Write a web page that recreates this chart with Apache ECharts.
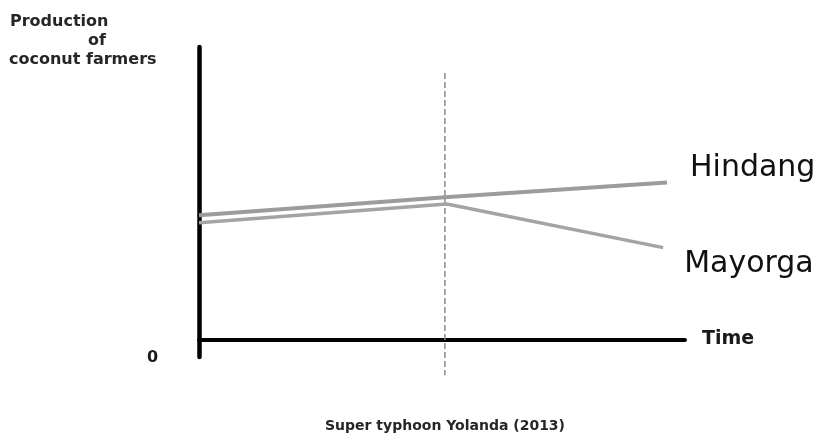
<!DOCTYPE html>
<html>
<head>
<meta charset="utf-8">
<script src="https://cdn.jsdelivr.net/npm/echarts@6/dist/echarts.min.js"></script>
<style>
html,body{margin:0;padding:0;background:#fff;}
#chart{width:828px;height:433px;}
</style>
</head>
<body>
<div id="chart"></div>
<script>
// ---- data ----
var seriesNames = ['Hindang', 'Mayorga'];
var hindangX = [0, 50.6, 96.3];
var hindangY = [42.5, 48.6, 53.7];
var mayorgaX = [0, 51.0, 95.5];
var mayorgaY = [39.9, 46.3, 31.4];
var typhoonX = [50.6, 50.6];
var typhoonY = [91.1, -12.2];
var yAxisTitleLines = ['Production', 'of', 'coconut farmers'];
var xAxisTitle = 'Time';
var originLabel = '0';
var eventLabel = 'Super typhoon Yolanda (2013)';

function pairs(xs, ys) { return xs.map(function (x, i) { return [x, ys[i]]; }); }

var chart = echarts.init(document.getElementById('chart'), null, {renderer: 'canvas'});
chart.setOption({
  backgroundColor: '#ffffff',
  animation: false,
  grid: {left: 199, right: 143, top: 47, bottom: 76, containLabel: false},
  xAxis: {
    type: 'value', min: 0, max: 100,
    axisLine: {show: true, onZero: true, lineStyle: {color: '#000', width: 4}},
    axisTick: {show: false}, axisLabel: {show: false}, splitLine: {show: false},
    name: xAxisTitle, nameLocation: 'end', nameGap: 17,
    nameTextStyle: {fontFamily: 'DejaVu Sans', fontWeight: 'bold', fontSize: 19, color: '#1a1a1a', verticalAlign: 'middle'}
  },
  yAxis: {
    type: 'value', min: -6, max: 100,
    axisLine: {show: true, onZero: false, lineStyle: {color: '#000', width: 4.5}},
    axisTick: {show: false}, axisLabel: {show: false}, splitLine: {show: false}
  },
  graphic: [
    {type: 'text', left: 10, top: 14, style: {text: yAxisTitleLines[0], fontFamily: 'DejaVu Sans', fontWeight: 'bold', fontSize: 16, fill: '#262626'}},
    {type: 'text', left: 88, top: 33, style: {text: yAxisTitleLines[1], fontFamily: 'DejaVu Sans', fontWeight: 'bold', fontSize: 16, fill: '#262626'}},
    {type: 'text', left: 9, top: 52, style: {text: yAxisTitleLines[2], fontFamily: 'DejaVu Sans', fontWeight: 'bold', fontSize: 16, fill: '#262626'}},
    {type: 'text', left: 147, top: 350, style: {text: originLabel, fontFamily: 'DejaVu Sans', fontWeight: 'bold', fontSize: 16, fill: '#1a1a1a'}},
    {type: 'text', x: 445, y: 426, style: {text: eventLabel, fontFamily: 'DejaVu Sans', fontWeight: 'bold', fontSize: 14, fill: '#262626', textAlign: 'center', textVerticalAlign: 'middle'}}
  ],
  series: [
    {
      name: 'Typhoon', type: 'line', data: pairs(typhoonX, typhoonY), clip: false,
      symbol: 'none', silent: true, z: 1,
      lineStyle: {color: '#8a8a8a', width: 1.5, type: [6, 3]}
    },
    {
      name: seriesNames[0], type: 'line', data: pairs(hindangX, hindangY),
      symbol: 'none', z: 3,
      lineStyle: {color: '#9c9c9c', width: 4},
      endLabel: {show: true, formatter: '{a}', distance: 0, offset: [23, -14],
        fontFamily: 'DejaVu Sans', fontSize: 30, color: '#111', align: 'left', verticalAlign: 'middle'}
    },
    {
      name: seriesNames[1], type: 'line', data: pairs(mayorgaX, mayorgaY),
      symbol: 'none', z: 2,
      lineStyle: {color: '#a4a4a4', width: 3.5},
      endLabel: {show: true, formatter: '{a}', distance: 0, offset: [21, 17],
        fontFamily: 'DejaVu Sans', fontSize: 30, color: '#111', align: 'left', verticalAlign: 'middle'}
    }
  ]
});
</script>
</body>
</html>
